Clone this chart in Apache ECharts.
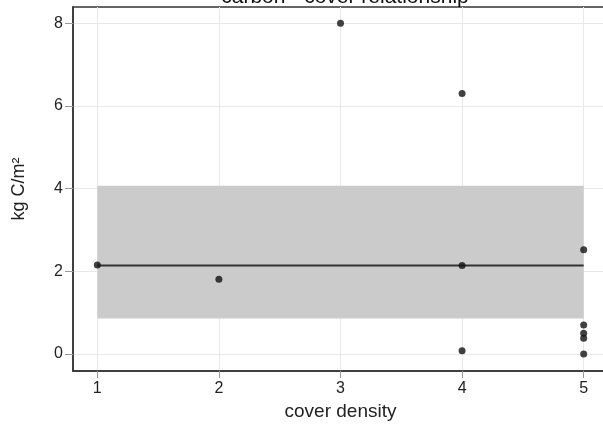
<!DOCTYPE html>
<html>
<head>
<meta charset="utf-8">
<script src="https://cdn.jsdelivr.net/npm/echarts@6/dist/echarts.min.js"></script>
<style>
  html, body { margin: 0; padding: 0; background: #fff; }
  #main { width: 603px; height: 429px; }
</style>
</head>
<body>
<div id="main"></div>
<script>
// points: cover density vs kg C/m2
const coverX = [1, 2, 3, 4, 4, 4, 5, 5, 5, 5, 5];
const carbonY = [2.15, 1.81, 8.0, 6.3, 2.14, 0.08, 2.52, 0.7, 0.5, 0.38, 0.0];
const meanLine = [[1, 2.14], [5, 2.14]];
const bandX = [1, 5];
const bandY = [0.86, 4.07];
const xTicks = [1, 2, 3, 4, 5];
const yTicks = [0, 2, 4, 6, 8];

const chart = echarts.init(document.getElementById("main"));
const font = "Liberation Sans";

const points = coverX.map((x, i) => [x, carbonY[i]]);

const option = {
  backgroundColor: "#fff",
  animation: false,
  textStyle: { fontFamily: font },
  title: {
    text: "carbon - cover relationship",
    left: 340,
    textAlign: "center",
    top: -18,
    textStyle: { fontSize: 21, fontWeight: "normal", color: "#111", fontFamily: font },
  },
  grid: {
    left: 73,
    width: 535, // right border falls just off the canvas
    top: 7,
    bottom: 58,
    outerBoundsMode: "none",
    containLabel: false,
    show: true,
    borderColor: "#333",
    borderWidth: 1.5,
    backgroundColor: "transparent",
  },
  xAxis: {
    type: "value",
    min: 0.8,
    max: 5.2,
    name: "cover density",
    nameLocation: "middle",
    nameGap: 28,
    nameTextStyle: { fontSize: 19, color: "#222", fontFamily: font },
    axisLine: { show: true, onZero: false, lineStyle: { color: "#333", width: 1.5 } },
    axisTick: { show: true, length: 7, lineStyle: { color: "#999" }, customValues: xTicks },
    axisLabel: { fontSize: 16, color: "#222", margin: 10, customValues: xTicks },
    splitLine: { show: true, lineStyle: { color: "#e8e8e8", width: 1 } },
  },
  yAxis: {
    type: "value",
    min: -0.41,
    max: 8.39,
    name: "kg C/m²",
    nameLocation: "middle",
    nameGap: 45,
    nameTextStyle: { fontSize: 18, color: "#222", fontFamily: font },
    axisLine: { show: true, onZero: false, lineStyle: { color: "#333", width: 1.5 } },
    axisTick: { show: true, length: 8, lineStyle: { color: "#999" }, customValues: yTicks },
    axisLabel: { fontSize: 16, color: "#222", margin: 10, customValues: yTicks },
    splitLine: { show: true, lineStyle: { color: "#e8e8e8", width: 1 } },
  },
  series: [
    {
      type: "line",
      data: meanLine,
      symbol: "none",
      lineStyle: { color: "#333", width: 2 },
      z: 3,
      markArea: {
        silent: true,
        itemStyle: { color: "#cbcbcb" },
        data: [[{ coord: [bandX[0], bandY[0]] }, { coord: [bandX[1], bandY[1]] }]],
      },
    },
    {
      type: "scatter",
      data: points,
      symbol: "circle",
      symbolSize: 7,
      itemStyle: { color: "#111" },
      z: 4,
    },
  ],
};

chart.setOption(option);
</script>
</body>
</html>
